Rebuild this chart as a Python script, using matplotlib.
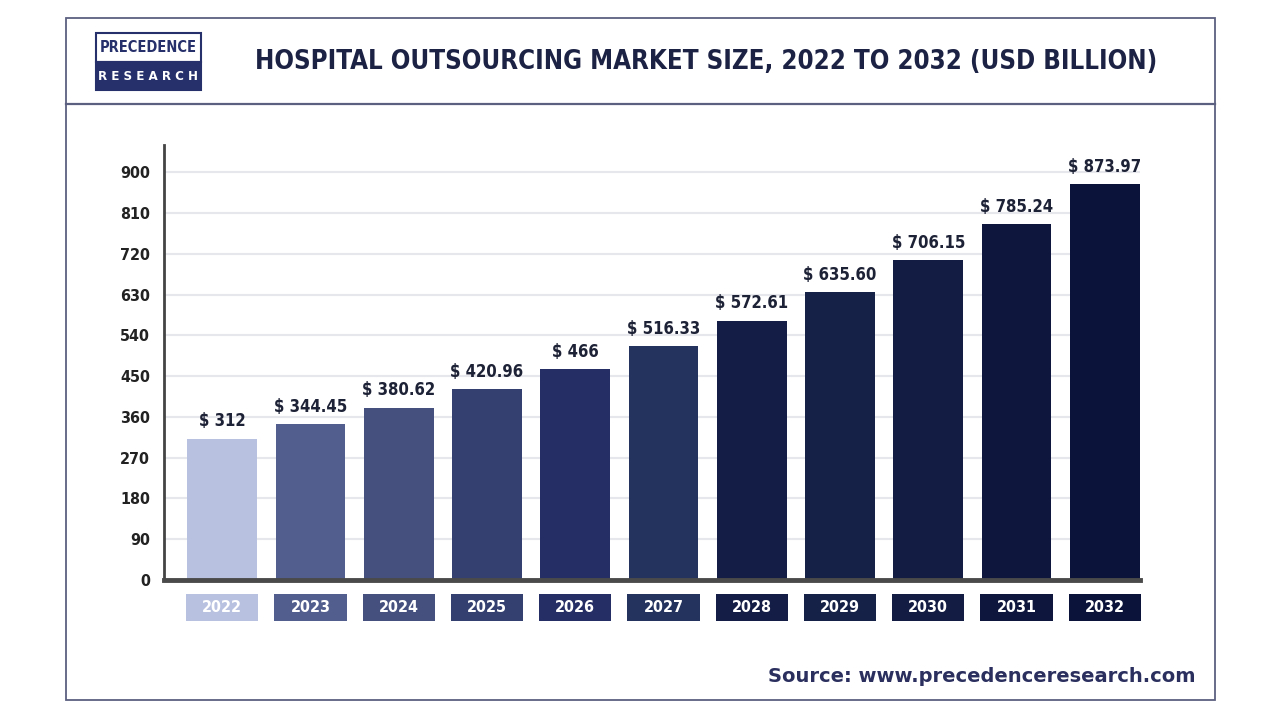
import matplotlib.pyplot as plt
from matplotlib.patches import Rectangle
from matplotlib.transforms import blended_transform_factory

# data
years = ['2022', '2023', '2024', '2025', '2026', '2027',
         '2028', '2029', '2030', '2031', '2032']
values = [312, 344.45, 380.62, 420.96, 466, 516.33,
          572.61, 635.60, 706.15, 785.24, 873.97]
value_labels = ['$ 312', '$ 344.45', '$ 380.62', '$ 420.96', '$ 466', '$ 516.33',
                '$ 572.61', '$ 635.60', '$ 706.15', '$ 785.24', '$ 873.97']
bar_colors = ['#b8c2e0', '#525e8e', '#45507f', '#334070', '#262e66', '#23335e',
              '#141d45', '#152146', '#131c42', '#0e163d', '#0b133a']
yticks = [0, 90, 180, 270, 360, 450, 540, 630, 720, 810, 900]

narrow = dict(family='DejaVu Sans', stretch='condensed', weight='bold')
navy = '#1c2244'

fig = plt.figure(figsize=(12.8, 7.2), dpi=100)
fig.patch.set_facecolor('white')

# outer frame and header separator
W, H = 1280, 720
fig.add_artist(Rectangle((66 / W, 1 - 700 / H), (1215 - 66) / W, (700 - 18) / H,
                         transform=fig.transFigure, fill=False,
                         edgecolor='#5c6080', linewidth=1.3))
fig.add_artist(plt.Line2D([66 / W, 1215 / W], [1 - 104 / H, 1 - 104 / H],
                          transform=fig.transFigure, color='#5c6080', linewidth=1.6))

# logo
fig.add_artist(Rectangle((96 / W, 1 - 62 / H), 105 / W, 29 / H, transform=fig.transFigure,
                         facecolor='white', edgecolor='#26306a', linewidth=1.5))
fig.add_artist(Rectangle((96 / W, 1 - 90 / H), 105 / W, 28 / H, transform=fig.transFigure,
                         facecolor='#26306a', edgecolor='#26306a', linewidth=1.5))
fig.text(148.5 / W, 1 - 47 / H, 'PRECEDENCE', ha='center', va='center',
         fontsize=10.5, color='#26306a', **narrow)
fig.text(148.5 / W, 1 - 76 / H, 'R E S E A R C H', ha='center', va='center',
         fontsize=9.5, color='white', **narrow)

# title
fig.text(706 / W, 1 - 62 / H, 'HOSPITAL OUTSOURCING MARKET SIZE, 2022 TO 2032 (USD BILLION)',
         ha='center', va='center', fontsize=18.5, color=navy, **narrow)

# source
fig.text(1195 / W, 1 - 677 / H, 'Source: www.precedenceresearch.com', ha='right', va='center',
         fontsize=14, fontweight='bold', color='#2a2f5e', family='DejaVu Sans')

ax = fig.add_axes([164 / W, 1 - 580 / H, (1140 - 164) / W, (580 - 145) / H])
x = list(range(len(years)))
ax.bar(x, values, width=0.79, color=bar_colors, zorder=3)
ax.set_xlim(-0.66, 10.4)
ax.set_ylim(0, 960)
ax.set_yticks(yticks)
ax.set_yticklabels([str(t) for t in yticks], fontsize=11.5, color='#222222', **narrow)
ax.tick_params(axis='y', length=0, pad=10)
ax.set_xticks([])
ax.grid(axis='y', color='#e6e7ec', linewidth=1.5, zorder=0)
for s in ['top', 'right']:
    ax.spines[s].set_visible(False)
ax.spines['left'].set_color('#444444')
ax.spines['left'].set_linewidth(2)
ax.spines['bottom'].set_color('#4a4a4a')
ax.spines['bottom'].set_linewidth(3.5)
ax.spines['bottom'].set_zorder(4)

for xi, v, lab in zip(x, values, value_labels):
    ax.annotate(lab, (xi, v), xytext=(0, 6), textcoords='offset points', ha='center',
                va='bottom', fontsize=12, color='#1e2236', **narrow)

# year label boxes under the axis
trans = blended_transform_factory(ax.transData, ax.transAxes)
for xi, yr, c in zip(x, years, bar_colors):
    ax.add_patch(Rectangle((xi - 0.41, -0.094), 0.82, 0.062, transform=trans,
                           facecolor=c, edgecolor='none', clip_on=False))
    ax.text(xi, -0.063, yr, transform=trans, ha='center', va='center', fontsize=11.5,
            color='white', **narrow)

fig.savefig('out.png', dpi=100)
